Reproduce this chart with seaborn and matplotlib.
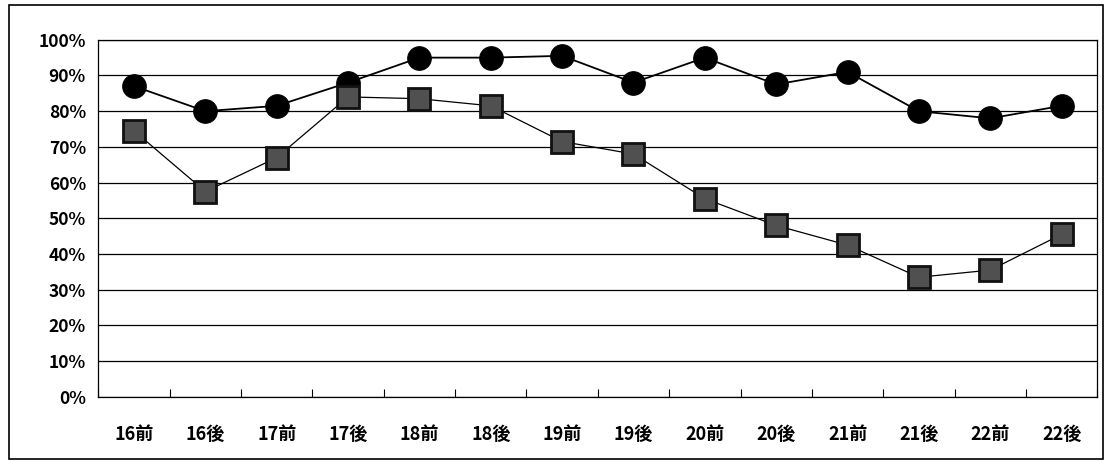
import numpy as np
import pandas as pd
import matplotlib
matplotlib.use("Agg")
import matplotlib.pyplot as plt
import seaborn as sns
from matplotlib.patches import Rectangle
from matplotlib.ticker import MultipleLocator, FuncFormatter

periods = ["16前", "16後", "17前", "17後", "18前", "18後", "19前",
           "19後", "20前", "20後", "21前", "21後", "22前", "22後"]
circle_vals = [87, 80, 81.5, 88, 95, 95, 95.5, 88, 95, 87.5, 91, 80, 78, 81.5]
square_vals = [74.5, 57.5, 67, 84, 83.5, 81.5, 71.5, 68, 55.5, 48, 42.5, 33.5, 35.5, 45.5]

sns.set_theme(style="white")
plt.rcParams["font.family"] = ["Noto Sans CJK JP", "DejaVu Sans"]

df = pd.DataFrame({"pos": np.arange(len(periods)),
                   "circle": circle_vals, "square": square_vals})

fig = plt.figure(figsize=(11.05, 4.68), dpi=100)
ax = fig.add_axes([0.089, 0.152, 0.904, 0.763])

sns.lineplot(data=df, x="pos", y="circle", ax=ax, color="black", lw=1.3,
             marker="o", markersize=17, markerfacecolor="black",
             markeredgecolor="black")
sns.lineplot(data=df, x="pos", y="square", ax=ax, color="black", lw=0.9,
             marker="s", markersize=16, markerfacecolor="#505050",
             markeredgecolor="#111111", markeredgewidth=2)

ax.set_xlim(-0.5, len(periods) - 0.5)
ax.set_ylim(0, 100)
ax.yaxis.set_major_locator(MultipleLocator(10))
ax.yaxis.set_major_formatter(FuncFormatter(lambda v, p: f"{int(v)}%"))
ax.grid(axis="y", color="black", lw=0.9)
ax.set_xticks(df["pos"])
ax.set_xticklabels(periods)
ax.set_xticks(np.arange(len(periods) + 1) - 0.5, minor=True)
ax.tick_params(axis="x", which="major", length=0, pad=20, labelsize=13)
ax.tick_params(axis="x", which="minor", direction="in", length=6,
               width=0.8, color="black", bottom=True)
ax.tick_params(axis="y", length=0, pad=9, labelsize=12.5)
for lab in ax.get_xticklabels() + ax.get_yticklabels():
    lab.set_fontweight("bold")
    lab.set_color("black")
ax.set_xlabel("")
ax.set_ylabel("")
for s in ax.spines.values():
    s.set_color("black")
    s.set_linewidth(0.9)

fig.patches.append(Rectangle((0.008, 0.02), 0.99, 0.97, transform=fig.transFigure,
                             fill=False, edgecolor="black", lw=1.2))

fig.savefig("out.png", dpi=100)
